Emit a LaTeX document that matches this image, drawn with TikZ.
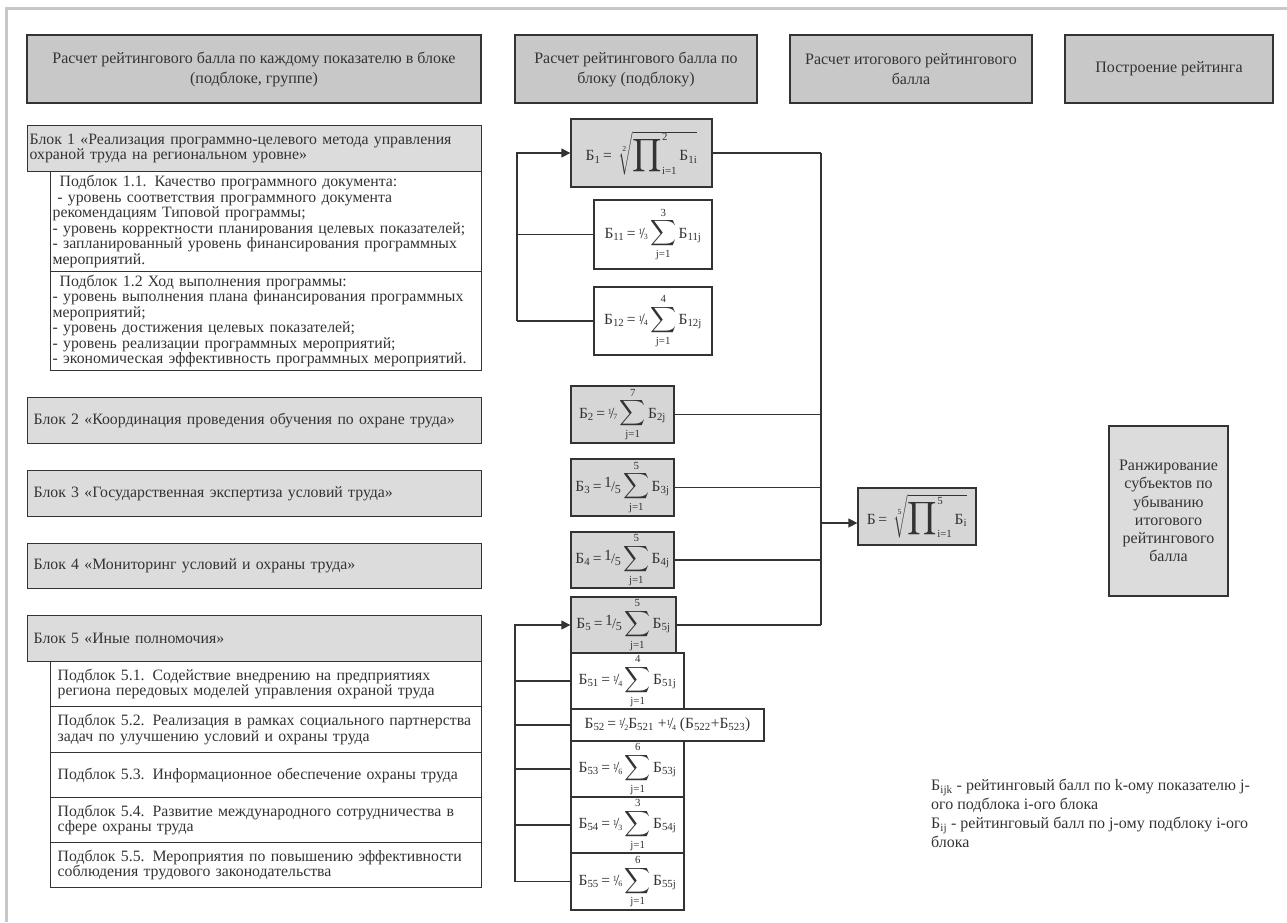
\documentclass[tikz,border=0pt]{standalone}
\usepackage{amsmath}
\usepackage{fontspec}
\setmainfont{Liberation Serif}
\usetikzlibrary{arrows.meta}
\definecolor{ink}{HTML}{333333}
\definecolor{hdrfill}{HTML}{C8C8C8}
\definecolor{blkfill}{HTML}{DCDCDC}
\definecolor{frmfill}{HTML}{D6D6D6}
\definecolor{framegray}{HTML}{C8C8C8}
\newcommand{\Bsub}[1]{\text{Б}_{\text{#1}}}
\newcommand{\eqs}{\text{\,=\,}}
\newcommand{\vfr}[2]{\text{\raisebox{.5ex}{\footnotesize#1}\kern-.1em/\kern-.08em\raisebox{-.2ex}{\footnotesize#2}}}
\newcommand{\bigfr}[2]{\text{\raisebox{.45ex}{#1}\kern-.05em{\Large/}\kern-.02em\raisebox{-.3ex}{\large#2}}}
\newcommand{\bsum}[2]{\mathop{\scalebox{1.25}{$\displaystyle\sum$}}\limits_{\text{#1}}^{\text{#2}}}
\newcommand{\bprod}{\mathop{\scalebox{1.6}{$\displaystyle\prod$}}\nolimits}

\begin{document}
\begin{tikzpicture}[x=1pt,y=-1pt,>={Triangle[length=9pt,width=9pt]},
  box/.style={draw=ink,line width=1.3pt,inner sep=0pt,text=ink,font=\fontsize{15.8}{15.5}\selectfont},
  hdr/.style={box,fill=hdrfill,align=center,font=\fontsize{16}{20}\selectfont},
  blk/.style={box,fill=blkfill,anchor=north west,align=left,inner xsep=6pt,text width=442pt,minimum height=46pt},
  subblk/.style={box,anchor=north west,align=left,inner xsep=7pt,text width=417pt},
  frm/.style={box,fill=frmfill,font=\fontsize{15.5}{16}\selectfont},
  frmw/.style={frm,fill=white},
  link/.style={draw=ink,line width=1.3pt}]
\useasboundingbox (0,0) rectangle (1287,922);
\draw[framegray,line width=3pt] (1287,8) -- (6,8) -- (6,922);

\node[hdr,minimum width=454pt,minimum height=68pt] (hd1) at (254,69) {Расчет рейтингового балла по каждому показателю в блоке\\(подблоке, группе)};
\node[hdr,minimum width=242pt,minimum height=68pt] (hd2) at (636,69) {Расчет рейтингового балла по\\блоку (подблоку)};
\node[hdr,minimum width=242pt,minimum height=68pt] (hd3) at (911,69) {Расчет итогового рейтингового\\балла};
\node[hdr,minimum width=208pt,minimum height=68pt] (hd4) at (1169,69) {Построение рейтинга};

\node[blk,inner xsep=2pt,text width=450pt,font=\fontsize{15.8}{14}\selectfont] (blk1) at (27,125) {Блок 1 «Реализация программно-целевого метода управления\\охраной труда на региональном уровне»};
\node[subblk,inner xsep=2pt,text width=427pt,minimum height=100pt] (sub11) at (50,171) {\hspace*{7pt}Подблок 1.1. Качество программного документа:\\\hspace*{.3em}- уровень соответствия программного документа\\рекомендациям Типовой программы;\\- уровень корректности планирования целевых показателей;\\- запланированный уровень финансирования программных\\мероприятий.};
\node[subblk,inner xsep=2pt,text width=427pt,minimum height=99pt] (sub12) at (50,271) {\hspace*{7pt}Подблок 1.2 Ход выполнения программы:\\- уровень выполнения плана финансирования программных\\мероприятий;\\- уровень достижения целевых показателей;\\- уровень реализации программных мероприятий;\\- экономическая эффективность программных мероприятий.};
\node[blk] (blk2) at (27,397) {Блок 2 «Координация проведения обучения по охране труда»};
\node[blk] (blk3) at (27,470) {Блок 3 «Государственная экспертиза условий труда»};
\node[blk,minimum height=45pt] (blk4) at (27,543) {Блок 4 «Мониторинг условий и охраны труда»};
\node[blk] (blk5) at (27,615) {Блок 5 «Иные полномочия»};
\node[subblk,minimum height=45pt] (sub51) at (50,661) {Подблок 5.1. Содействие внедрению на предприятиях\\региона передовых моделей управления охраной труда};
\node[subblk,minimum height=46pt] (sub52) at (50,706) {Подблок 5.2. Реализация в рамках социального партнерства\\задач по улучшению условий и охраны труда};
\node[subblk,minimum height=45pt] (sub53) at (50,752) {Подблок 5.3. Информационное обеспечение охраны труда};
\node[subblk,minimum height=45pt] (sub54) at (50,797) {Подблок 5.4. Развитие международного сотрудничества в\\сфере охраны труда};
\node[subblk,minimum height=45pt] (sub55) at (50,842) {Подблок 5.5. Мероприятия по повышению эффективности\\соблюдения трудового законодательства};

\node[frm,minimum width=141pt,minimum height=68pt] (B1) at (641.5,153) {$\Bsub{1}\eqs\ \sqrt[\text{2}]{\bprod_{\text{i=1}}^{\text{2}}\Bsub{1i}}$};
\node[frmw,minimum width=118pt,minimum height=69pt] (B11) at (653,234.5) {$\Bsub{11}\eqs\vfr13\bsum{j=1}{3}\Bsub{11j}$};
\node[frmw,minimum width=118pt,minimum height=68pt] (B12) at (653,321) {$\Bsub{12}\eqs\vfr14\bsum{j=1}{4}\Bsub{12j}$};
\node[frm,minimum width=103pt,minimum height=57pt] (B2) at (622.5,414.5) {$\Bsub{2}\eqs\vfr17\bsum{j=1}{7}\Bsub{2j}$};
\node[frm,minimum width=103pt,minimum height=57pt] (B3) at (622.5,487.5) {$\Bsub{3}\eqs\bigfr15\bsum{j=1}{5}\Bsub{3j}$};
\node[frm,minimum width=103pt,minimum height=56pt] (B4) at (622.5,560) {$\Bsub{4}\eqs\bigfr15\bsum{j=1}{5}\Bsub{4j}$};
\node[frm,minimum width=105pt,minimum height=56pt] (B5) at (623.5,625) {$\Bsub{5}\eqs\bigfr15\bsum{j=1}{5}\Bsub{5j}$};
\node[frmw,minimum width=113pt,minimum height=56pt] (B51) at (627.5,681) {$\Bsub{51}\eqs\vfr14\bsum{j=1}{4}\Bsub{51j}$};
\node[frmw,minimum width=193pt,minimum height=32pt] (B52) at (667.5,725) {$\Bsub{52}\eqs\vfr12\Bsub{521}\text{ +}\vfr14\text{ (}\Bsub{522}\text{+}\Bsub{523}\text{)}$};
\node[frmw,minimum width=113pt,minimum height=56pt] (B53) at (627.5,769) {$\Bsub{53}\eqs\vfr16\bsum{j=1}{6}\Bsub{53j}$};
\node[frmw,minimum width=113pt,minimum height=56pt] (B54) at (627.5,825) {$\Bsub{54}\eqs\vfr13\bsum{j=1}{3}\Bsub{54j}$};
\node[frmw,minimum width=113pt,minimum height=57pt] (B55) at (627.5,881.5) {$\Bsub{55}\eqs\vfr16\bsum{j=1}{6}\Bsub{55j}$};
\node[frm,minimum width=118pt,minimum height=57pt] (Bf) at (917,516.5) {$\text{Б}\eqs\ \sqrt[\text{5}]{\bprod_{\text{i=1}}^{\text{5}}\Bsub{i}}$};

\node[box,fill=blkfill,align=center,font=\fontsize{16}{18.3}\selectfont,minimum width=119pt,minimum height=170pt] (rank) at (1168.5,511) {Ранжирование\\субъектов по\\убыванию\\итогового\\рейтингового\\балла};
\node[anchor=north west,align=left,text=ink,inner sep=0pt,font=\fontsize{16}{19}\selectfont] (legend) at (931,779) {$\Bsub{ijk}$ - рейтинговый балл по k-ому показателю j-\\ого подблока i-ого блока\\$\Bsub{ij}$ - рейтинговый балл по j-ому подблоку i-ого\\блока};

\coordinate (bus1) at (517,0);
\coordinate (bus2) at (821,0);
\coordinate (bus3) at (515,0);
\draw[link,->] (bus1 |- B12.west) -- (bus1 |- B1.west) -- (B1.west);
\foreach \n in {B11,B12} \draw[link] (\n.west) -- (bus1 |- \n.west);
\foreach \n in {B1,B2,B3,B4,B5} \draw[link] (\n.east) -- (bus2 |- \n.east);
\draw[link] (bus2 |- B1.east) -- (bus2 |- B5.east);
\draw[link,->] (bus2 |- 0,523) -- (Bf.west |- 0,523);
\draw[link,->] (bus3 |- B55.west) -- (bus3 |- B5.west) -- (B5.west);
\foreach \n in {B51,B52,B53,B54,B55} \draw[link] (\n.west) -- (bus3 |- \n.west);
\end{tikzpicture}
\end{document}
